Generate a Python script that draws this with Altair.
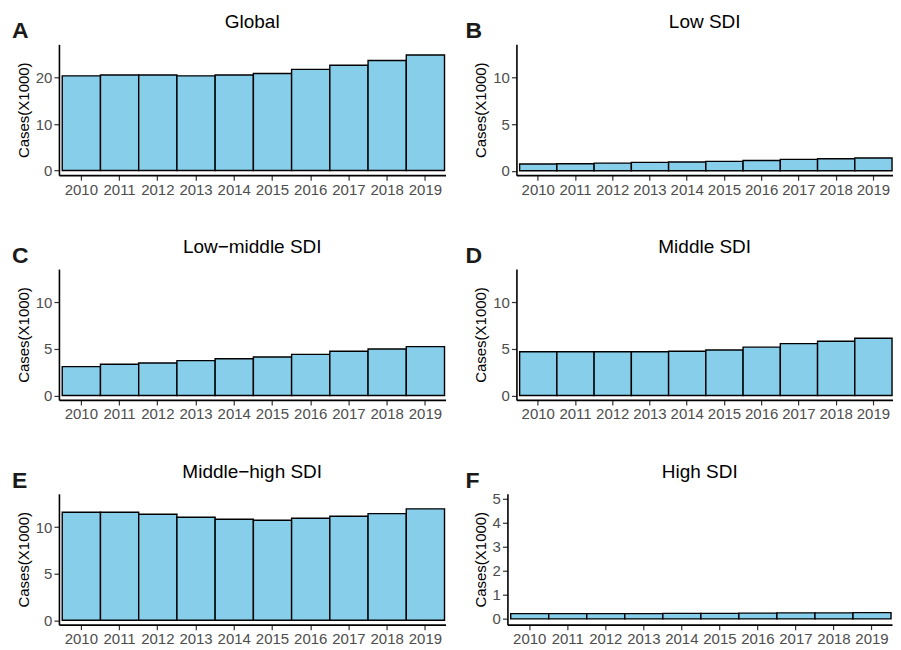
import altair as alt
import pandas as pd

years = ["2010", "2011", "2012", "2013", "2014", "2015", "2016", "2017", "2018", "2019"]

panel_titles = ["Global", "Low SDI", "Low\u2212middle SDI", "Middle SDI", "Middle\u2212high SDI", "High SDI"]
panel_letters = ["A", "B", "C", "D", "E", "F"]

global_cases = [20.4, 20.6, 20.6, 20.4, 20.6, 20.9, 21.8, 22.7, 23.7, 24.9]
low_sdi = [0.72, 0.75, 0.82, 0.90, 0.93, 1.00, 1.10, 1.22, 1.29, 1.36]
low_middle_sdi = [3.10, 3.35, 3.50, 3.75, 3.95, 4.14, 4.42, 4.75, 5.00, 5.25]
middle_sdi = [4.71, 4.71, 4.71, 4.71, 4.75, 4.89, 5.20, 5.58, 5.83, 6.15]
middle_high_sdi = [11.62, 11.62, 11.40, 11.08, 10.86, 10.76, 10.97, 11.19, 11.47, 11.98]
high_sdi = [0.22, 0.22, 0.22, 0.22, 0.23, 0.23, 0.24, 0.25, 0.25, 0.26]

series = [global_cases, low_sdi, low_middle_sdi, middle_sdi, middle_high_sdi, high_sdi]
y_domains = [[-1.0, 27.2], [-0.48, 13.6], [-0.48, 13.6], [-0.48, 13.6], [-0.48, 13.6], [-0.24, 5.2]]
y_ticks = [[0, 10, 20], [0, 5, 10], [0, 5, 10], [0, 5, 10], [0, 5, 10], [0, 1, 2, 3, 4, 5]]
widths = [387, 377, 387, 377, 387, 385]
letter_dx = [-47, -51, -47, -51, -47, -42]

FONT = "Liberation Sans"
H = 131


def panel(i):
    df = pd.DataFrame({"year": years, "cases": series[i]})
    bars = alt.Chart(df).mark_bar(
        fill="#87CEEB", stroke="black", strokeWidth=1.4
    ).encode(
        x=alt.X("year:N", title=None,
                scale=alt.Scale(paddingInner=0, paddingOuter=0.056, align=0.77),
                axis=alt.Axis(labelAngle=0, labelPadding=2)),
        y=alt.Y("cases:Q", title="Cases(X1000)",
                scale=alt.Scale(domain=y_domains[i], zero=False, nice=False),
                axis=alt.Axis(values=y_ticks[i], titlePadding=4)),
        y2=alt.datum(0),
    )
    ann = pd.DataFrame({"letter": [panel_letters[i]], "name": [panel_titles[i]]})
    lab = alt.Chart(ann).mark_text(
        font=FONT, fontSize=23, fontWeight="bold", align="left",
        baseline="alphabetic", color="#1a1a1a"
    ).encode(
        text="letter:N",
        x=alt.value(letter_dx[i]),
        y=alt.value(-6),
    )
    name = alt.Chart(ann).mark_text(
        font=FONT, fontSize=19, fontWeight="normal", align="center",
        baseline="alphabetic", color="black"
    ).encode(
        text="name:N",
        x=alt.value(widths[i] / 2),
        y=alt.value(-16),
    )
    return alt.layer(bars, lab, name).properties(width=widths[i], height=H)


rows = []
for r in range(3):
    rows.append(alt.hconcat(panel(2 * r), panel(2 * r + 1), spacing=20))

chart = alt.vconcat(*rows, spacing=41).properties(
    padding={"left": 4, "top": 5, "right": 0, "bottom": 0},
    background="white",
).configure_view(stroke=None).configure_axis(
    grid=False,
    labelFont=FONT, labelFontSize=15, labelColor="#4D4D4D",
    titleFont=FONT, titleFontSize=15, titleFontWeight="normal", titleColor="black",
    tickColor="#333333", tickSize=5, tickWidth=1.2,
    domainColor="black", domainWidth=1.6,
)

chart.save("out.html", embed_options={"renderer": "svg", "actions": False})
